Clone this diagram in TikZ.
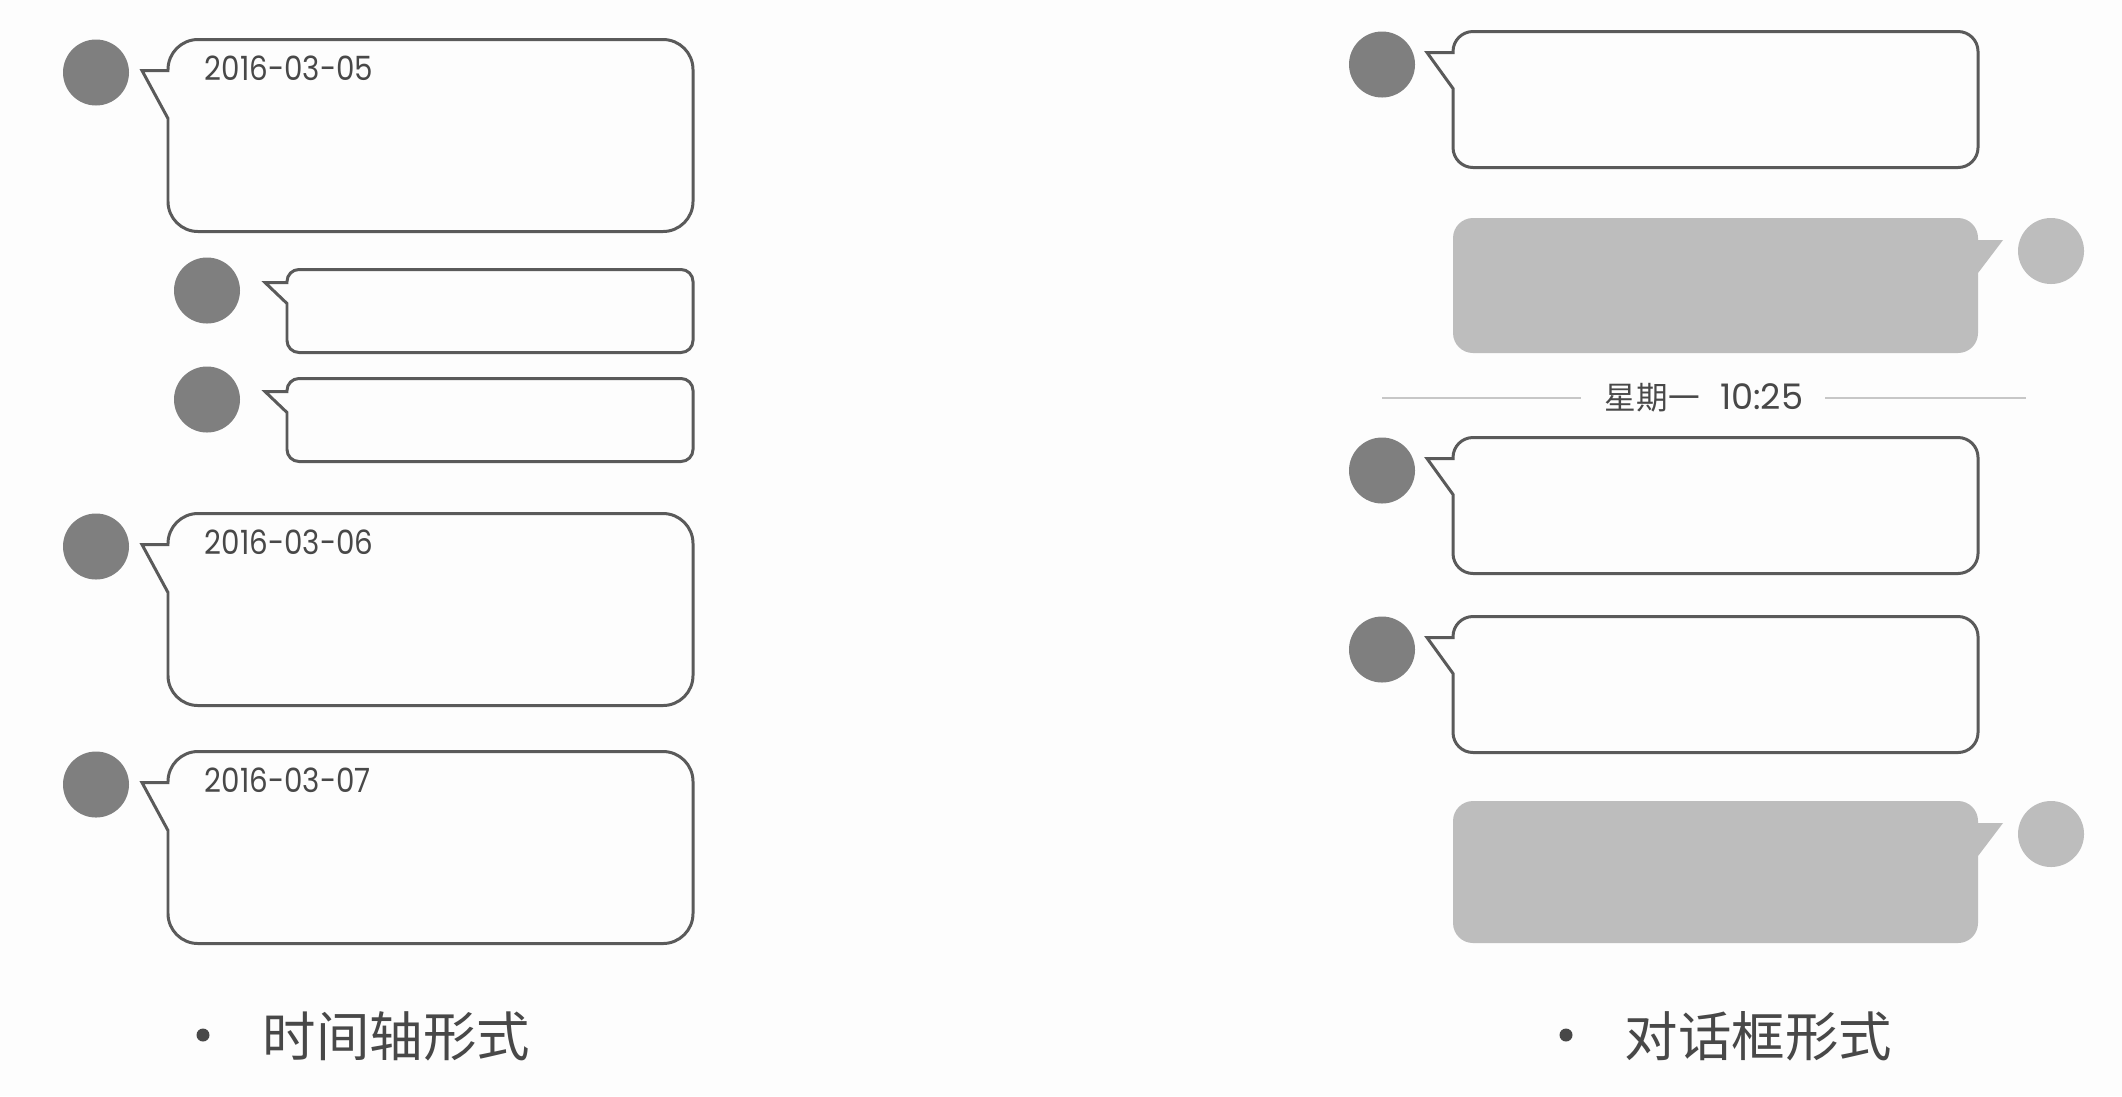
\documentclass[tikz,border=0pt]{standalone}
\usepackage{fontspec}
\setmainfont{Poppins}
\newfontfamily\cjk{Noto Sans CJK SC}
\newfontfamily\datefont{Poppins}[FakeStretch=0.88]
\usepackage{tikz}
\usetikzlibrary{calc,positioning}
\definecolor{pagebg}{HTML}{FDFDFD}
\definecolor{outline}{HTML}{5A5A5A}
\definecolor{darkdot}{HTML}{7F7F7F}
\definecolor{lightfill}{HTML}{BDBDBD}
\definecolor{labeltext}{HTML}{484848}
\tikzset{
  outbubble/.style={draw=outline, line width=0.85pt, fill=pagebg, line join=miter},
  inbubble/.style={fill=lightfill},
  darkavatar/.style={circle, fill=darkdot, minimum size=66*0.01cm, inner sep=0pt},
  lightavatar/.style={circle, fill=lightfill, minimum size=66*0.01cm, inner sep=0pt},
  datelabel/.style={anchor=west, inner sep=0pt, text=labeltext, font=\datefont\fontsize{9.5}{12}\selectfont},
  captionlabel/.style={anchor=west, inner sep=0pt, text=labeltext, font=\cjk\fontsize{15.2}{18}\selectfont},
  captiondot/.style={circle, fill=labeltext, minimum size=13*0.01cm, inner sep=0pt},
  timerule/.style={draw=lightfill!85, line width=0.6pt}
}
% near side, far side, top, bottom, tip x, tip y, foot y, radius, style
\newcommand{\bubble}[9]{
  \path[#9] (#5,#6) -- (#1,#7) [rounded corners=#8*0.01cm] -- (#1,#4) -- (#2,#4) -- (#2,#3) -- (#1,#3) [sharp corners] -- (#1,#6) -- cycle;
}

\begin{document}
\begin{tikzpicture}[x=0.01cm,y=-0.01cm]
    \useasboundingbox (0,0) rectangle (2122,1096);
    \fill[pagebg] (0,0) rectangle (2122,1096);

    % time line column
    \foreach \top/\name in {39.5/one,513.5/two,751.5/three}{
        \bubble{168}{693}{\top}{\top+192}{142}{\top+31}{\top+79}{30}{outbubble}
        \node[darkavatar] (avatar\name) at (96,\top+33) {};
    }
    \foreach \top/\name in {269.5/four,378.5/five}{
        \bubble{287}{693}{\top}{\top+83}{265}{\top+13}{\top+34}{12}{outbubble}
        \node[darkavatar] (avatar\name) at (207,\top+21) {};
    }
    \node[datelabel] (dateone) at (204,68.5) {2016-03-05};
    \node[datelabel] (datetwo) at (204,542.5) {2016-03-06};
    \node[datelabel] (datethree) at (204,780) {2016-03-07};

    % dialog column
    \foreach \top/\name in {31.5/six,437.5/seven,616.5/eight}{
        \bubble{1453}{1978}{\top}{\top+136}{1427}{\top+21}{\top+57}{20}{outbubble}
        \node[darkavatar] (avatar\name) at (1382,\top+33) {};
    }
    \foreach \top/\hgt/\name in {218/135/nine,801/142/ten}{
        \bubble{1978}{1453}{\top}{\top+\hgt}{2003}{\top+22}{\top+55}{20}{inbubble}
        \node[lightavatar] (avatar\name) at (2051,\top+33) {};
    }

    \node[anchor=west, inner sep=0pt, text=labeltext, font=\fontsize{10}{12}\selectfont] (timestamp) at (1604,398) {{\cjk\fontsize{9}{11}\selectfont 星期一}\hspace{5.8pt}10:25};
    \coordinate (ruleleft) at (1382,398);
    \coordinate (ruleleftend) at (1581,398);
    \coordinate (rulerightstart) at (1825,398);
    \coordinate (ruleright) at (2026,398);
    \draw[timerule] (ruleleft) -- (ruleleftend);
    \draw[timerule] (rulerightstart) -- (ruleright);

    % captions
    \node[captiondot] (dotleft) at (203,1035) {};
    \node[captionlabel] (captionleft) at (262,1036) {时间轴形式};
    \node[captiondot] (dotright) at (1566,1035) {};
    \node[captionlabel] (captionright) at (1624,1036) {对话框形式};
\end{tikzpicture}
\end{document}
